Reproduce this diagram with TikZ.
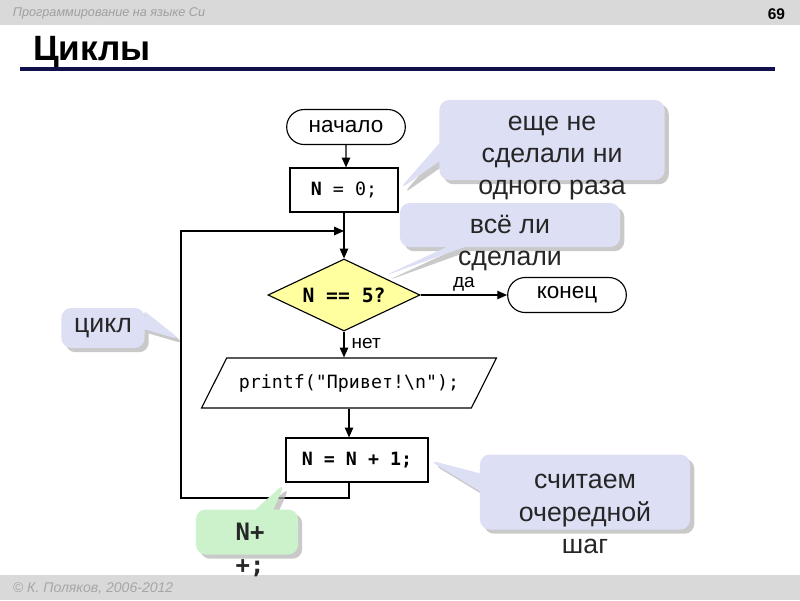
\documentclass[tikz,border=0pt]{standalone}
\usepackage{fontspec}
\setmainfont{Liberation Sans}
\setmonofont{DejaVu Sans Mono}
\usetikzlibrary{arrows.meta, shapes.geometric, shapes.misc, shapes.callouts, shadows, positioning}
\definecolor{barGray}{RGB}{217,217,217}
\definecolor{titleNavy}{RGB}{16,16,74}
\definecolor{noteBlue}{RGB}{221,223,245}
\definecolor{noteGreen}{RGB}{204,242,204}
\definecolor{condYellow}{RGB}{255,255,160}

\begin{document}
\begin{tikzpicture}[x=0.025cm, y=-0.025cm,
          terminal/.style={
              draw, rounded rectangle, line width=0.8pt,
              minimum width=3.2cm, minimum height=0.875cm,
              font=\fontsize{16}{18}\selectfont
            },
          action/.style={
              draw, rectangle, line width=0.8pt, fill=white,
              minimum height=1.1cm,
              font=\ttfamily\fontsize{13}{15}\selectfont
            },
          decision/.style={
              draw, diamond, fill=condYellow, line width=0.8pt,
              shape aspect=2.1, inner sep=0pt,
              minimum width=3.8cm, minimum height=1.8cm,
              font=\ttfamily\bfseries\fontsize{14}{16}\selectfont
            },
          output/.style={
              draw, trapezium, trapezium left angle=49, trapezium right angle=131,
              trapezium stretches=true, line width=0.8pt,
              minimum width=7.375cm, minimum height=1.25cm,
              font=\ttfamily\fontsize{13}{15}\selectfont
            },
          note/.style={
              rectangle callout, rounded corners=7pt, draw=none, fill=noteBlue,
              callout pointer width=0.45cm,
              drop shadow={shadow xshift=3pt, shadow yshift=-3pt, fill=gray!60, opacity=0.7}
            },
          notetext/.style={
              align=center, text=black!85, font=\fontsize{19}{23}\selectfont
            },
          flow/.style={-{Triangle[length=7pt, width=6pt]}, line width=0.9pt},
          edgetext/.style={font=\fontsize{13.5}{15}\selectfont, inner sep=2pt}
        ]
        \useasboundingbox (0,0) rectangle (800,600);

        % slide frame
        \fill[barGray] (0,0) rectangle (800,25);
        \fill[barGray] (0,575) rectangle (800,600);
        \node[anchor=west, text=gray!75, font=\itshape\fontsize{9}{10}\selectfont] (header) at (8,13) {Программирование на языке Си};
        \node[anchor=east, font=\bfseries\fontsize{11}{12}\selectfont] (page) at (790,14) {69};
        \node[anchor=base west, inner sep=0pt, font=\bfseries\fontsize{25}{27}\selectfont] (title) at (33,60) {Циклы};
        \draw[titleNavy, line width=2.2pt] (20,69) -- (775,69);
        \node[anchor=west, text=gray!70, font=\itshape\fontsize{10}{11}\selectfont] (footer) at (8,588) {© К. Поляков, 2006-2012};

        % flowchart
        \node[terminal] (start) at (346,127) {начало};
        \node[action, minimum width=2.7cm] (init) at (344,190) {\textbf{N} = 0;};
        \node[decision] (cond) at (344,295) {N == 5?};
        \node[terminal] (stop) at (567,295) {конец};
        \node[output] (print) at (349,383) {printf("Привет!\textbackslash n");};
        \node[action, minimum width=3.55cm, font=\ttfamily\bfseries\fontsize{13}{15}\selectfont] (incr) at (357,460) {N = N + 1;};

        \coordinate (join) at (344,231);
        \coordinate (loopMid) at (181,340);

        \draw[flow] (start) -- (start |- init.north);
        \draw[flow] (init) -- (cond);
        \draw[flow] (cond) -- node[edgetext, above] {да} (stop);
        \draw[flow] (cond.south) -- node[edgetext, right, pos=0.45, xshift=3pt] {нет} (cond.south |- print.north);
        \draw[flow] (print.south) -- (print.south |- incr.north);
        \draw[flow] (incr.south -| print.south) |- (181,498) |- (join);

        % comments
        \node[note, minimum width=5.625cm, minimum height=2cm,
              callout absolute pointer={(init.east)}] (noteZero) at (552,140) {};
        \node[notetext] (noteZeroText) at (552,158) {еще не\\сделали ни\\одного раза};

        \node[note, minimum width=5.5cm, minimum height=1.1cm,
              callout absolute pointer={(cond.north east)}] (noteDone) at (510,225) {};
        \node[notetext] (noteDoneText) at (510,243) {всё ли\\сделали};

        \node[note, minimum width=2.075cm, minimum height=1cm,
              callout absolute pointer={(loopMid)}] (noteLoop) at (103,328) {};
        \node[notetext] (noteLoopText) at (103,328) {цикл};

        \node[note, minimum width=5.25cm, minimum height=1.875cm,
              callout absolute pointer={(incr.east)}] (noteStep) at (585,492) {};
        \node[notetext] (noteStepText) at (585,514) {считаем\\очередной\\шаг};

        \node[note, fill=noteGreen, minimum width=2.55cm, minimum height=1.125cm,
              callout absolute pointer={(incr.south west)}] (noteInc) at (247,532) {};
        \node[notetext, font=\ttfamily\bfseries\fontsize{17}{23}\selectfont] (noteIncText) at (250,550) {N+\\+;};
      \end{tikzpicture}
\end{document}
